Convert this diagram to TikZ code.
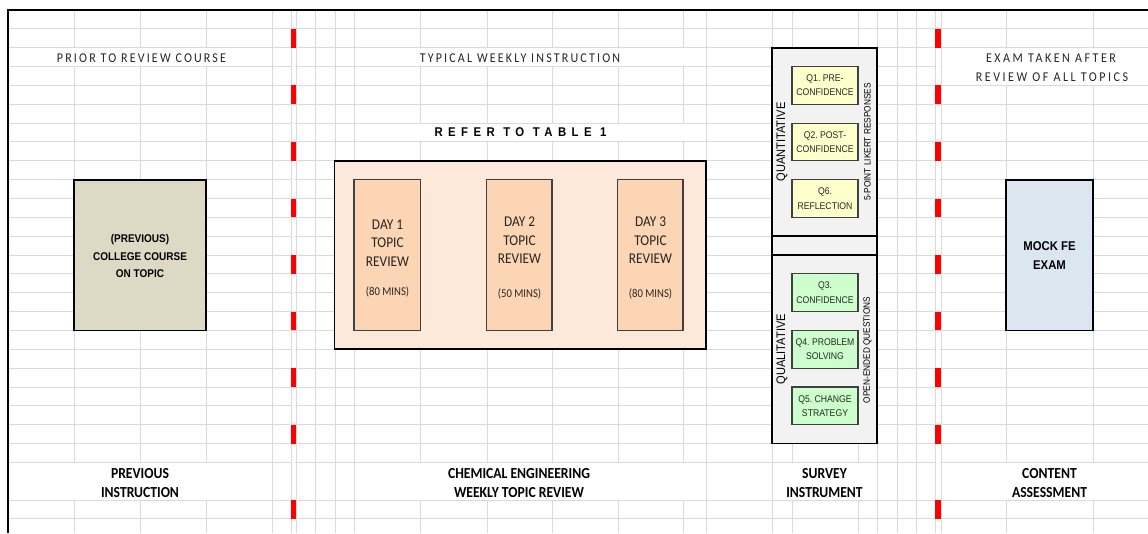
\documentclass[tikz,border=0pt]{standalone}
\usepackage{fontspec}
\setmainfont{Carlito}
\newfontfamily\arialf{Liberation Sans}
\newfontfamily\hdrf[LetterSpace=18]{Carlito}
\newfontfamily\hdrg[LetterSpace=21]{Carlito}
\newfontfamily\refff[LetterSpace=48]{Liberation Sans}
\usetikzlibrary{fit}
\definecolor{gridc}{HTML}{DADADA}
\definecolor{hdrc}{HTML}{262626}
\definecolor{dtext}{HTML}{262626}
\definecolor{qtc}{HTML}{262626}
\definecolor{dayout}{HTML}{FDE9D9}
\definecolor{dayin}{HTML}{FCD5B4}
\definecolor{survc}{HTML}{F2F2F2}
\definecolor{yelc}{HTML}{FFFFCC}
\definecolor{grnc}{HTML}{CCFFCC}
\definecolor{prevc}{HTML}{DDD9C4}
\definecolor{mockc}{HTML}{DCE6F1}
\definecolor{redc}{HTML}{FF0000}
\definecolor{inbord}{HTML}{404040}
\frenchspacing
\begin{document}
\begin{tikzpicture}[x=0.75pt,y=-0.75pt,
  gridline/.style={draw=gridc, line width=0.75pt},
  mask/.style={fill=white},
  bigbox/.style={draw=black, line width=1.3pt, inner sep=0pt, outer sep=0pt},
  smallbox/.style={draw=inbord, line width=0.8pt, inner sep=0pt, outer sep=0pt},
  tall/.style={yscale=1.12},
  hdr/.style={font=\hdrf\fontsize{9}{10}\selectfont, text=hdrc, inner sep=0pt, tall},
  hdrw/.style={font=\hdrg\fontsize{9}{10}\selectfont, text=hdrc, inner sep=0pt, tall},
  reft/.style={font=\refff\bfseries\fontsize{8.5}{10}\selectfont, text=black, inner sep=0pt, tall},
  daytxt/.style={font=\fontsize{10}{12.4}\selectfont, align=center, text=dtext, inner sep=0pt, tall},
  mins/.style={font=\fontsize{8}{9}\selectfont, text=dtext, inner sep=0pt, tall},
  bottxt/.style={font=\bfseries\fontsize{10.25}{12.7}\selectfont, align=center, text=black, inner sep=0pt, tall},
  prevtxt/.style={font=\arialf\bfseries\fontsize{7.5}{11.7}\selectfont, align=center, text=black, inner sep=0pt, tall},
  mocktxt/.style={font=\arialf\bfseries\fontsize{8.5}{12.7}\selectfont, align=center, text=black, inner sep=0pt, tall},
  qtxt/.style={font=\arialf\fontsize{6.5}{9.6}\selectfont, align=center, text=qtc, inner sep=0pt, tall},
  qlab/.style={font=\arialf\fontsize{8.3}{10}\selectfont, rotate=90, inner sep=0pt, text=black, tall},
  qsub/.style={font=\arialf\fontsize{6.2}{8}\selectfont, rotate=90, inner sep=0pt, text=black, tall}
]
\useasboundingbox (0,0) rectangle (1148,533);
\fill[white] (0,0) rectangle (1148,533);
% ---------- spreadsheet grid ----------
\foreach \k in {1,...,24} \draw[gridline] (8,{10+18.85*\k}) -- (1148,{10+18.85*\k});
\draw[gridline] (8,500.1) -- (1148,500.1);
\draw[gridline] (8,518.95) -- (1148,518.95);
\foreach \x in {74,140,206,272,291,296,315,335,354,420,487,552,618,683,706,772,792,858,877,897,916,935,941,1006,1093}
  \draw[gridline] (\x,10) -- (\x,533);
% merged cells (hide grid)
\fill[mask] (9,48.3) rectangle (271.4,66);
\fill[mask] (354.6,48.3) rectangle (705.4,66);
\fill[mask] (941.6,48.3) rectangle (1148,84.8);
\fill[mask] (354.6,123.7) rectangle (705.4,141.4);
\fill[mask] (9,463) rectangle (271.4,499.5);
\fill[mask] (354.6,463) rectangle (705.4,499.5);
\fill[mask] (772.6,463) rectangle (876.4,499.5);
\fill[mask] (941.6,463) rectangle (1148,499.5);
% red dashed separators
\foreach \k in {1,4,...,22} {
  \fill[redc] (291,{10+18.85*\k}) rectangle (296,{10+18.85*(\k+1)});
  \fill[redc] (935,{10+18.85*\k}) rectangle (941,{10+18.85*(\k+1)});
}
\fill[redc] (291,500.1) rectangle (296,518.95);
\fill[redc] (935,500.1) rectangle (941,518.95);
\foreach \m in {3,6,...,24} {
  \fill[white] (291.6,{10+18.85*\m-0.7}) rectangle (295.4,{10+18.85*\m+0.7});
  \fill[white] (935.6,{10+18.85*\m-0.7}) rectangle (940.4,{10+18.85*\m+0.7});
}
% sheet border
\draw[line width=1.7pt] (8.3,533) -- (8.3,10) -- (1148,10);

% ---------- headers ----------
\node[hdr] (h1) at (141.5,58) {PRIOR TO REVIEW COURSE};
\node[hdr] (h2) at (520,58) {TYPICAL WEEKLY INSTRUCTION};
\node[hdrw] (h3) at (1051,58) {EXAM TAKEN AFTER};
\node[hdrw] (h4) at (1052,77) {REVIEW OF ALL TOPICS};
\node[reft] (h5) at (520.5,132.5) {REFER TO TABLE 1};

% ---------- previous course ----------
\node[bigbox, fill=prevc, fit={(74,179.65)(206,330.45)}] (prev) {};
\node[prevtxt] (prevt) at (140,256) {(PREVIOUS)\\COLLEGE COURSE\\ON TOPIC};

% ---------- weekly review ----------
\node[bigbox, fill=dayout, fit={(334.5,160.8)(706,349.3)}] (week) {};
\node[smallbox, fill=dayin, fit={(354,179.65)(420.5,330.45)}] (d1) {};
\node[smallbox, fill=dayin, fit={(486.5,179.65)(552,330.45)}] (d2) {};
\node[smallbox, fill=dayin, fit={(617.5,179.65)(683,330.45)}] (d3) {};
\node[daytxt] (d1t) at (387.5,242.8) {DAY 1\\TOPIC\\REVIEW};
\node[daytxt] (d2t) at (519.5,240.5) {DAY 2\\TOPIC\\REVIEW};
\node[daytxt] (d3t) at (650.5,240.5) {DAY 3\\TOPIC\\REVIEW};
\node[mins] (d1m) at (387.5,291.5) {(80 MINS)};
\node[mins] (d2m) at (519.5,293.5) {(50 MINS)};
\node[mins] (d3m) at (650.5,293.5) {(80 MINS)};

% ---------- survey instrument ----------
\node[bigbox, fill=survc, fit={(772,47.7)(877,443.55)}] (surv) {};
\draw[line width=1.1pt] (772,236.2) -- (877,236.2);
\draw[line width=0.9pt] (772,255.05) -- (877,255.05);
\node[smallbox, fill=yelc, fit={(792,66.55)(858,104.25)}] (q1) {};
\node[smallbox, fill=yelc, fit={(792,123.1)(858,160.8)}] (q2) {};
\node[smallbox, fill=yelc, fit={(792,179.65)(858,217.35)}] (q6) {};
\node[smallbox, fill=grnc, fit={(792,273.9)(858,311.6)}] (q3) {};
\node[smallbox, fill=grnc, fit={(792,330.45)(858,368.15)}] (q4) {};
\node[smallbox, fill=grnc, fit={(792,387)(858,424.7)}] (q5) {};
\node[qtxt] (q1t) at (q1.center) {Q1. PRE-\\CONFIDENCE};
\node[qtxt] (q2t) at (q2.center) {Q2. POST-\\CONFIDENCE};
\node[qtxt] (q6t) at (q6.center) {Q6.\\REFLECTION};
\node[qtxt] (q3t) at (q3.center) {Q3.\\CONFIDENCE};
\node[qtxt] (q4t) at (q4.center) {Q4. PROBLEM\\SOLVING};
\node[qtxt] (q5t) at (q5.center) {Q5. CHANGE\\STRATEGY};
\node[qlab] (quant) at (782,142) {QUANTITATIVE};
\node[qsub] (likert) at (867.5,142) {5-POINT LIKERT RESPONSES};
\node[qlab] (qual) at (782,349.3) {QUALITATIVE};
\node[qsub] (open) at (867.5,350) {OPEN-ENDED QUESTIONS};

% ---------- mock exam ----------
\node[bigbox, fill=mockc, fit={(1006,179.65)(1093,330.45)}] (mock) {};
\node[mocktxt] (mockt) at (1049.5,256) {MOCK FE\\EXAM};

% ---------- bottom labels ----------
\node[bottxt] (b1) at (140,483) {PREVIOUS\\INSTRUCTION};
\node[bottxt] (b2) at (519,483) {CHEMICAL ENGINEERING\\WEEKLY TOPIC REVIEW};
\node[bottxt] (b3) at (824.5,483) {SURVEY\\INSTRUMENT};
\node[bottxt] (b4) at (1049.5,483) {CONTENT\\ASSESSMENT};
\end{tikzpicture}
\end{document}
